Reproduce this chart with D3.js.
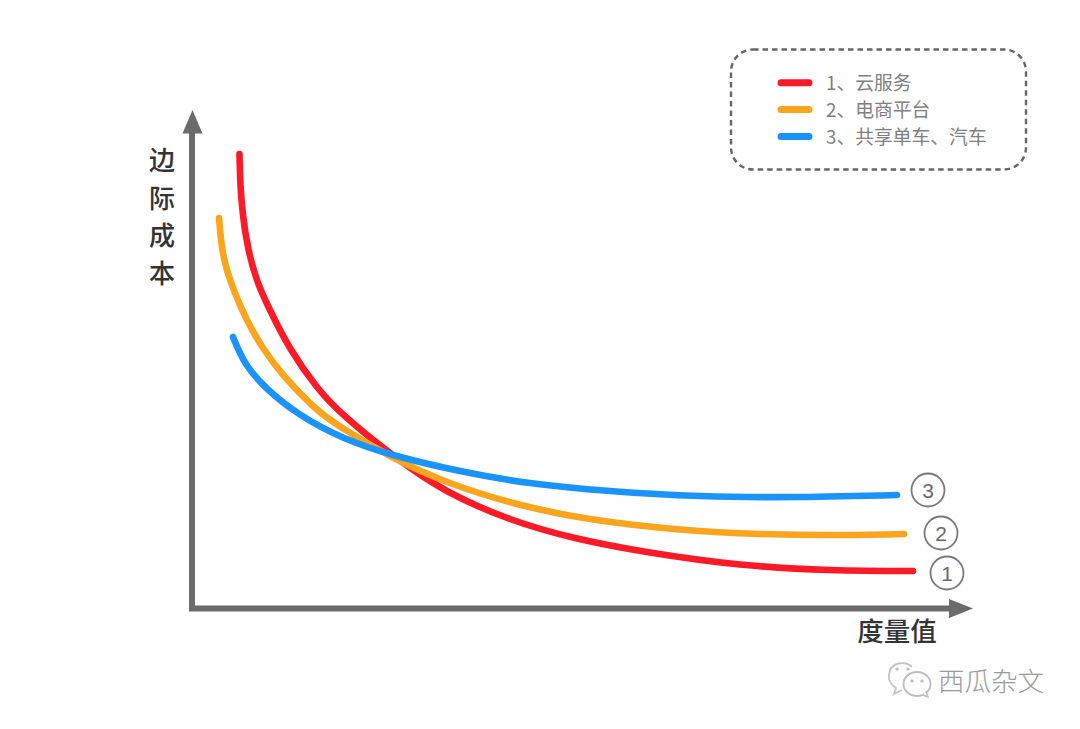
<!DOCTYPE html>
<html><head><meta charset="utf-8">
<script src="https://cdn.jsdelivr.net/npm/d3@7/dist/d3.min.js"></script>
<style>html,body{margin:0;padding:0;background:#fff}svg{display:block}</style></head>
<body><svg id="c" width="1080" height="729"></svg>
<script>
const seriesNames = ["1、云服务","2、电商平台","3、共享单车、汽车"];
const seriesColors = ["#fb1a26","#fba51f","#1a94fb"];
const seriesTags = ["1","2","3"];
const redX = [47.5,48.5,51,56,65,78,98,125,155,202,255,318,383,458,548,638,721];
const redY = [454,423,393,361,328,298,260,221,190,152,117,89,70,55.5,43.5,38,37];
const orangeX = [27,30,35,43,55,71,93,120,148,200,258,323,398,488,568,648,712];
const orangeY = [390,361,338,315,288,260,231,203,181.5,151,125,104.5,89,78.5,74,73,74];
const blueX = [41,54,76,108,151,203,268,338,418,508,608,705];
const blueY = [271,244,218.5,193.5,170.5,152.5,137,125,117,112,111,113];
const yLabelChars = ["边","际","成","本"];
const xLabel = "度量值";
const watermark = "西瓜杂文";

const font = '"Noto Sans CJK SC","Noto Sans",sans-serif';
const svg = d3.select("#c");
const x = d3.scaleLinear().domain([0,780]).range([192,972]);
const y = d3.scaleLinear().domain([0,500]).range([608,108]);
const line = d3.line().x(d=>x(d[0])).y(d=>y(d[1])).curve(d3.curveNatural);
const axisGrey = "#6b6b6b";

// axes
svg.append("line").attr("x1",192).attr("x2",192).attr("y1",611).attr("y2",130).attr("stroke",axisGrey).attr("stroke-width",6);
svg.append("line").attr("x1",189).attr("x2",952).attr("y1",608.5).attr("y2",608.5).attr("stroke",axisGrey).attr("stroke-width",6);
svg.append("path").attr("d","M192.5,110L202.5,133.5L182.5,133.5Z").attr("fill",axisGrey);
svg.append("path").attr("d","M973,608.5L949,599L949,618Z").attr("fill",axisGrey);

// curves
[[redX,redY],[orangeX,orangeY],[blueX,blueY]].map((s,i)=>({i,pts:d3.zip(s[0],s[1])}))
 .forEach(s=>{
  svg.append("path").attr("d",line(s.pts)).attr("fill","none")
     .attr("stroke",seriesColors[s.i]).attr("stroke-width",6.6).attr("stroke-linecap","round");
 });

// end tags
const tagPos = [[947,573],[941,533],[928,490]];
seriesTags.forEach((t,i)=>{
  svg.append("circle").attr("cx",tagPos[i][0]).attr("cy",tagPos[i][1]).attr("r",16.5)
     .attr("fill","#fff").attr("stroke","#7a7a7a").attr("stroke-width",1.8);
  svg.append("text").attr("x",tagPos[i][0]).attr("y",tagPos[i][1]+7.5).attr("text-anchor","middle")
     .attr("font-family","'Liberation Sans',sans-serif").attr("font-size",21).attr("fill","#6a6a6a").text(t);
});

// axis labels
yLabelChars.forEach((c,i)=>{
  svg.append("text").attr("x",162).attr("y",170+i*37.5).attr("text-anchor","middle")
     .attr("font-family",font).attr("font-size",26).attr("font-weight",500).attr("fill","#333").text(c);
});
svg.append("text").attr("x",897).attr("y",641).attr("text-anchor","middle")
   .attr("font-family",font).attr("font-size",26.5).attr("font-weight",500).attr("fill","#333").text(xLabel);

// legend
svg.append("rect").attr("x",731).attr("y",49.5).attr("width",295).attr("height",120).attr("rx",22)
   .attr("fill","none").attr("stroke","#666").attr("stroke-width",2.4).attr("stroke-dasharray","5.5 4");
const legY = [82.7,109.5,136.5];
seriesNames.forEach((n,i)=>{
  svg.append("line").attr("x1",781).attr("x2",809).attr("y1",legY[i]).attr("y2",legY[i])
     .attr("stroke",seriesColors[i]).attr("stroke-width",7).attr("stroke-linecap","round");
  svg.append("text").attr("x",826).attr("y",legY[i]+7).attr("font-family",font).attr("font-size",18.8)
     .attr("fill","#808080").text(n);
});

// watermark
const wm = svg.append("g");
wm.append("path").attr("d","M912,667C906,661 890,661 889,675C888,682 893,686 896,688L894,694L902,690")
  .attr("fill","none").attr("stroke","#c4c4c4").attr("stroke-width",1.8);
wm.append("ellipse").attr("cx",917).attr("cy",684).attr("rx",13.5).attr("ry",12)
  .attr("fill","#fff").attr("stroke","#bdbdbd").attr("stroke-width",1.8);
wm.append("path").attr("d","M923,695L928,697L926,691").attr("fill","#fff").attr("stroke","#bdbdbd").attr("stroke-width",1.5);
[[897,669],[908,669],[912,681],[922,681]].forEach(p=>wm.append("circle").attr("cx",p[0]).attr("cy",p[1]).attr("r",1.6).attr("fill","#bbb"));
svg.append("text").attr("x",938).attr("y",691).attr("font-family",font).attr("font-size",26.5)
   .attr("font-weight",300).attr("fill","#9a9a9a").text(watermark);
</script></body></html>
